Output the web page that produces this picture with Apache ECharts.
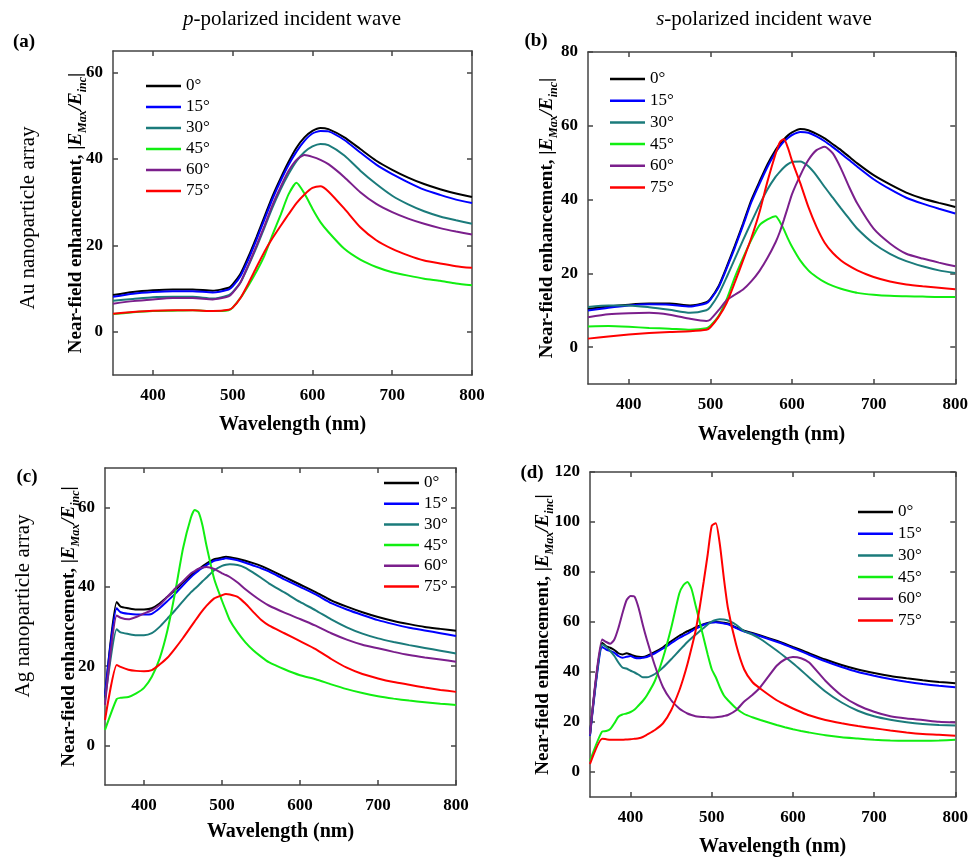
<!DOCTYPE html>
<html>
<head>
    <meta charset="utf-8">
    <title>Near-field enhancement</title>
    <script src="https://cdn.jsdelivr.net/npm/echarts@6/dist/echarts.min.js"></script>
</head>
<body style="margin:0;background:#fff;">
<div id="main" style="width: 971px;height:858px;"></div>
<script type="text/javascript">
    var myChart = echarts.init(document.getElementById('main'));

    var angles = ['0°', '15°', '30°', '45°', '60°', '75°'];
    var colors = ['#000000', '#0000ff', '#1b7b7b', '#11ee11', '#7b1f8c', '#ff0000'];
    var xTicks = [400, 500, 600, 700, 800];

    // (a) Au, p-polarized
    var wlA = [350,375,400,425,450,475,495,500,510,520,530,540,550,560,570,580,590,600,610,620,640,660,680,700,720,740,760,780,800];
    var a0  = [8.5,9.2,9.6,9.8,9.8,9.5,10.2,11,13.5,17.5,22,26.7,31.4,35.5,39.3,42.6,45,46.5,47.2,46.9,45,42.3,39.6,37.5,35.7,34.2,33,32,31.2];
    var a15 = [8.1,8.8,9.2,9.4,9.4,9.1,9.8,10.5,13,16.9,21.4,26.1,30.8,34.9,38.6,41.7,44.2,45.9,46.5,46.4,44.4,41.5,38.7,36.5,34.6,32.9,31.7,30.6,29.8];
    var a30 = [7.2,7.6,8,8.1,8.1,7.7,8.5,9.2,11.5,15.4,19.6,24.2,28.8,32.9,36.5,39.5,41.6,42.9,43.5,43.2,40.8,37.3,34.2,31.5,29.5,27.9,26.7,25.8,25];
    var a45 = [4.1,4.5,4.8,4.9,5,4.8,5,5.6,7.9,10.8,14,17.7,22.5,27,31.8,34.5,32,28.5,25.4,23.1,19.2,16.7,15,13.8,13,12.3,11.8,11.2,10.8];
    var a60 = [6.5,7.1,7.5,7.8,7.8,7.5,8.2,9,11.5,15.6,20,24.6,29.4,33.5,37.2,39.8,40.9,40.5,39.8,38.8,35.8,32.3,29.6,27.7,26.2,25,24,23.2,22.5];
    var a75 = [4.2,4.6,4.9,5,5,4.8,5.1,5.6,7.9,11.3,15,18.6,21.7,24.5,27.2,29.8,31.8,33.3,33.7,32.5,28.5,24.2,21.2,19.2,17.7,16.5,15.8,15.2,14.8];

    // (b) Au, s-polarized
    var wlB = [350,375,400,425,450,475,495,500,510,520,530,540,550,560,570,580,585,590,595,600,610,620,630,640,650,660,670,680,700,720,740,760,780,800];
    var b0  = [10.3,11,11.5,11.8,11.8,11.3,12.2,13.1,16.5,21.8,27.5,33.5,39.8,44.8,49.6,53.5,55,56.3,57.4,58.2,59.1,58.8,57.8,56.6,55,53.4,51.6,49.8,46.6,44.1,41.9,40.3,39.1,38];
    var b15 = [9.9,10.7,11.3,11.6,11.5,11,11.9,12.9,16.2,21.4,27,33,39.2,44.2,48.9,52.8,54.4,55.7,56.7,57.5,58.3,58.1,57.1,55.8,54.2,52.5,50.7,48.9,45.5,42.8,40.5,38.9,37.5,36.2];
    var b30 = [10.9,11.3,11.3,10.8,10.1,9.3,10,10.9,14.3,19,24,29,33.8,38.5,42.8,46.2,47.5,48.7,49.6,50.2,50.3,49,46.5,43.4,40.5,37.6,34.8,32.1,28.1,25.3,23.3,21.9,20.8,20.1];
    var b45 = [5.6,5.7,5.5,5.2,5,4.7,5.1,5.8,8.4,13,19,24.2,29,33,34.6,35.5,34,31.9,29.4,27.2,23.5,20.8,19,17.6,16.6,15.8,15.2,14.7,14.2,13.9,13.8,13.7,13.6,13.6];
    var b60 = [8.1,8.9,9.2,9.3,8.8,7.7,7.1,7.5,10,12.7,14.2,15.6,17.8,20.6,24.2,28.5,31.2,34.5,38,41.5,46.5,50.7,53.4,54.3,52.5,48.4,43.4,38.9,32.1,28.1,25.3,24,22.9,21.9];
    var b75 = [2.3,2.9,3.4,3.8,4.1,4.3,4.7,5.4,8.2,12,17.6,23.5,29.5,36.5,45,52.5,55.5,56.4,54,50.5,44.5,38,32.6,28.3,25.5,23.5,22,20.8,19,17.8,17,16.5,16.1,15.7];

    // (c) Ag, p-polarized
    var wlC = [350,365,370,380,390,400,410,420,430,440,450,460,465,470,475,480,490,500,505,510,520,530,540,550,560,580,600,620,640,660,680,700,720,740,760,780,800];
    var c0  = [12,36.2,35,34.6,34.3,34.3,34.6,35.8,37.5,39.2,41.1,42.9,43.7,44.5,45.2,45.9,47,47.4,47.6,47.5,47.1,46.6,46,45.3,44.4,42.5,40.6,38.7,36.6,35,33.6,32.4,31.4,30.6,29.9,29.4,28.9];
    var c15 = [12.6,34.6,33.6,33.2,33,33,33.2,34.6,36.4,38.3,40.4,42.4,43.3,44.1,44.8,45.5,46.6,47,47.2,47.1,46.7,46.1,45.4,44.7,43.9,41.9,40,38.1,35.9,34.3,32.9,31.6,30.6,29.7,29,28.3,27.6];
    var c30 = [11.5,29.3,28.5,28.1,27.8,27.8,28.3,29.9,32,34.1,36.4,38.6,39.5,40.4,41.4,42.3,44.2,45.3,45.6,45.7,45.5,44.8,43.6,42.3,40.9,38.6,36.2,34.1,31.8,29.8,28.2,27,26.1,25.3,24.6,23.9,23.2];
    var c45 = [3.9,11.7,12,12.2,13.1,14.5,17.3,21.9,29,38.7,49.7,57.4,59.4,58.8,55.5,50.5,42,36.5,34,31.6,28.5,26,24,22.4,21,19.2,17.7,16.7,15.4,14.2,13.2,12.4,11.8,11.3,10.9,10.5,10.2];
    var c60 = [10.2,32.8,32.2,31.8,32.4,33.3,34.1,35.4,37.5,39.6,41.4,43.4,44,44.6,44.9,45,44.5,43.4,43,42.5,41.1,39.4,37.9,36.5,35.3,33.5,31.9,30.2,28.3,26.7,25.4,24.5,23.6,22.8,22.2,21.7,21.1];
    var c75 = [6.4,20.3,19.8,19.1,18.8,18.7,19,20.4,22.1,24.5,27.1,29.9,31.3,32.7,34,35.2,37.1,37.9,38.2,38.1,37.5,35.8,33.7,31.7,30.3,28.3,26.3,24.3,21.8,19.6,18,16.9,16,15.3,14.6,14,13.5];

    // (d) Ag, s-polarized
    var wlD = [350,365,370,375,380,385,390,395,400,405,410,415,420,430,440,450,460,465,470,475,480,485,490,495,500,505,510,515,520,530,540,550,560,580,590,600,610,620,640,660,680,700,720,740,760,780,800];
    var d0  = [15,51.7,50.3,49.7,48.8,47.5,47,47.5,47,46.4,46.1,46,46.4,48,49.9,52.3,54.5,55.4,56.3,57,57.8,58.5,59.1,59.6,59.9,60,59.9,59.7,59.4,57.8,56.5,55.6,54.6,52.5,51.3,50,48.8,47.5,45,42.8,41,39.6,38.4,37.5,36.7,36,35.5];
    var d15 = [14.5,50,49,48.4,47.7,46.4,45.7,46.1,46.4,45.7,45.5,45.7,46,47.5,49.4,51.5,53.6,54.5,55.3,56.3,57.3,58.1,58.9,59.4,59.8,59.9,59.7,59.4,59.1,57.6,56.2,55.3,54.3,52.1,50.9,49.6,48.3,46.9,44.3,42,40,38.5,37.2,36.1,35.2,34.5,33.9];
    var d30 = [15,51,50,48.4,46.4,43.8,41.8,41.4,40.5,39.8,38.9,37.9,37.9,39.2,41.8,45.1,48.6,50.3,52,53.5,54.9,56.3,57.6,59,60.2,60.8,61.1,61,60.6,58.9,56.3,55,53.2,48.6,46.1,43.5,40.7,37.8,32.2,27.8,24.5,22.3,20.9,19.9,19.2,18.8,18.6];
    var d45 = [4.5,16.2,16.4,17.2,19.5,22.1,23,23.4,24,25,26.7,28.4,30.6,36.5,45.7,57.6,71.4,74.7,76,73.3,66.8,60.2,53.6,47,41.1,37.9,33.9,30.6,28.7,25.5,23.2,21.9,20.8,18.8,17.9,17.1,16.4,15.8,14.7,13.9,13.4,12.9,12.6,12.5,12.5,12.6,12.9];
    var d60 = [15,53,52,51.3,53,57.6,63.5,68.7,70.4,70.1,65.5,58.9,53,42.5,33.9,28.7,25.4,24.3,23.4,22.8,22.3,22.1,22,21.9,21.8,21.9,22.1,22.4,22.8,24.7,28.2,30.8,34,42.5,45,46,45.5,43.8,36.5,30.6,26.7,24.1,22.3,21.4,20.8,20.1,19.8];
    var d75 = [3.2,13.3,13.1,12.9,12.9,12.9,12.9,13,13.1,13.3,13.5,14,14.9,16.8,19.5,24.7,32.6,37.5,43.1,49.5,56.3,65.5,76,87,98.5,99.5,91,77.3,65.5,51,41,36,33.3,28.7,27,25.4,24,22.7,20.8,19.5,18.4,17.5,16.6,15.8,15.2,14.9,14.5];

    var panels = [
        {wl: wlA, ys: [a0, a15, a30, a45, a60, a75], grid: {left: 113, top: 51, width: 359, height: 324},
         ymin: -10, ymax: 65, yTicks: [0, 20, 40, 60], yGap: 24, xGap: 40, legend: {left: 141, top: 72, itemGap: 3}},
        {wl: wlB, ys: [b0, b15, b30, b45, b60, b75], grid: {left: 588, top: 52, width: 368, height: 332},
         ymin: -10, ymax: 80, yTicks: [0, 20, 40, 60, 80], yGap: 28, xGap: 41, legend: {left: 605, top: 65, itemGap: 3.7}},
        {wl: wlC, ys: [c0, c15, c30, c45, c60, c75], grid: {left: 105, top: 468, width: 351, height: 317},
         ymin: -10, ymax: 70, yTicks: [0, 20, 40, 60], yGap: 23, xGap: 37, legend: {left: 379, top: 469, itemGap: 2.7}},
        {wl: wlD, ys: [d0, d15, d30, d45, d60, d75], grid: {left: 590, top: 472, width: 366, height: 329},
         ymin: -10, ymax: 120, yTicks: [0, 20, 40, 60, 80, 100, 120], yGap: 34, xGap: 40, legend: {left: 853, top: 498, itemGap: 3.7}}
    ];

    var serif = 'Liberation Serif';
    var axisLineStyle = {color: '#444', width: 1.5};
    var tickLabel = {fontFamily: serif, fontWeight: 'bold', fontSize: 17, color: '#000'};
    var yName = '{b|Near-field enhancement, |}{i|E}{s|Max}{i|/E}{s|inc}{b||}';
    var yRich = {
        b: {fontFamily: serif, fontWeight: 'bold', fontSize: 19, lineHeight: 26, color: '#000'},
        i: {fontFamily: serif, fontWeight: 'bold', fontStyle: 'italic', fontSize: 19, lineHeight: 26, color: '#000'},
        s: {fontFamily: serif, fontWeight: 'bold', fontStyle: 'italic', fontSize: 12, lineHeight: 14, verticalAlign: 'bottom', color: '#000'}
    };

    var grids = [], xAxes = [], yAxes = [], series = [], legends = [];
    panels.forEach(function (p, k) {
        grids.push(p.grid);
        xAxes.push({
            type: 'value', gridIndex: k, min: 350, max: 800, position: 'bottom',
            name: 'Wavelength (nm)', nameLocation: 'middle', nameGap: p.xGap, nameMoveOverlap: false,
            nameTextStyle: {fontFamily: serif, fontWeight: 'bold', fontSize: 20, color: '#000'},
            axisLine: {onZero: false, lineStyle: axisLineStyle},
            axisTick: {inside: true, length: 5, customValues: xTicks, lineStyle: axisLineStyle},
            axisLabel: Object.assign({margin: 12, customValues: xTicks}, tickLabel),
            splitLine: {show: false}
        });
        xAxes.push({
            type: 'value', gridIndex: k, min: 350, max: 800, position: 'top',
            axisLine: {onZero: false, lineStyle: axisLineStyle},
            axisTick: {inside: true, length: 5, customValues: xTicks, lineStyle: axisLineStyle},
            axisLabel: {show: false}, splitLine: {show: false}
        });
        yAxes.push({
            type: 'value', gridIndex: k, min: p.ymin, max: p.ymax, position: 'left',
            name: yName, nameLocation: 'middle', nameRotate: 90, nameGap: p.yGap, nameMoveOverlap: false,
            nameTextStyle: {rich: yRich},
            axisLine: {onZero: false, lineStyle: axisLineStyle},
            axisTick: {inside: true, length: 5, customValues: p.yTicks, lineStyle: axisLineStyle},
            axisLabel: Object.assign({margin: 10, customValues: p.yTicks}, tickLabel),
            splitLine: {show: false}
        });
        yAxes.push({
            type: 'value', gridIndex: k, min: p.ymin, max: p.ymax, position: 'right',
            axisLine: {onZero: false, lineStyle: axisLineStyle},
            axisTick: {inside: true, length: 5, customValues: p.yTicks, lineStyle: axisLineStyle},
            axisLabel: {show: false}, splitLine: {show: false}
        });
        p.ys.forEach(function (vals, j) {
            series.push({
                name: angles[j], type: 'line', xAxisIndex: k * 2, yAxisIndex: k * 2,
                data: p.wl.map(function (x, i) { return [x, vals[i]]; }),
                symbol: 'none', smooth: 0.2,
                lineStyle: {color: colors[j], width: 2}, itemStyle: {color: colors[j]}
            });
        });
        // plain line icons: a thin rect the width of the reference's legend strokes
        legends.push({
            data: angles, orient: 'vertical', left: p.legend.left, top: p.legend.top,
            icon: 'rect', itemWidth: 35, itemHeight: 2.5, itemGap: p.legend.itemGap, selectedMode: false,
            textStyle: {fontFamily: serif, fontSize: 17, lineHeight: 18, color: '#000'}
        });
    });

    var titleFont = {fontFamily: serif, fontSize: 21, fill: '#000'};
    function label(x, y, text, extra) {
        return {type: 'text', x: x, y: y, style: Object.assign({text: text, align: 'center', verticalAlign: 'middle'}, titleFont, extra || {})};
    }
    var headRich = {i: {fontFamily: serif, fontSize: 21, fontStyle: 'italic', fill: '#000'}, n: {fontFamily: serif, fontSize: 21, fill: '#000'}};

    var option = {
        animation: false,
        backgroundColor: '#fff',
        grid: grids,
        xAxis: xAxes,
        yAxis: yAxes,
        legend: legends,
        series: series,
        graphic: [
            {type: 'text', x: 292, y: 19, style: {text: '{i|p}{n|-polarized incident wave}', align: 'center', verticalAlign: 'middle', rich: headRich}},
            {type: 'text', x: 764, y: 19, style: {text: '{i|s}{n|-polarized incident wave}', align: 'center', verticalAlign: 'middle', rich: headRich}},
            label(24, 42, '(a)', {fontWeight: 'bold', fontSize: 19}),
            label(536, 41, '(b)', {fontWeight: 'bold', fontSize: 19}),
            label(27, 477, '(c)', {fontWeight: 'bold', fontSize: 19}),
            label(532, 473, '(d)', {fontWeight: 'bold', fontSize: 19}),
            {type: 'text', x: 28, y: 218, rotation: Math.PI / 2,
                style: Object.assign({text: 'Au nanoparticle array', align: 'center', verticalAlign: 'middle'}, titleFont)},
            {type: 'text', x: 23, y: 606, rotation: Math.PI / 2,
                style: Object.assign({text: 'Ag nanoparticle array', align: 'center', verticalAlign: 'middle'}, titleFont)}
        ]
    };

    myChart.setOption(option);
</script>
</body>
</html>
